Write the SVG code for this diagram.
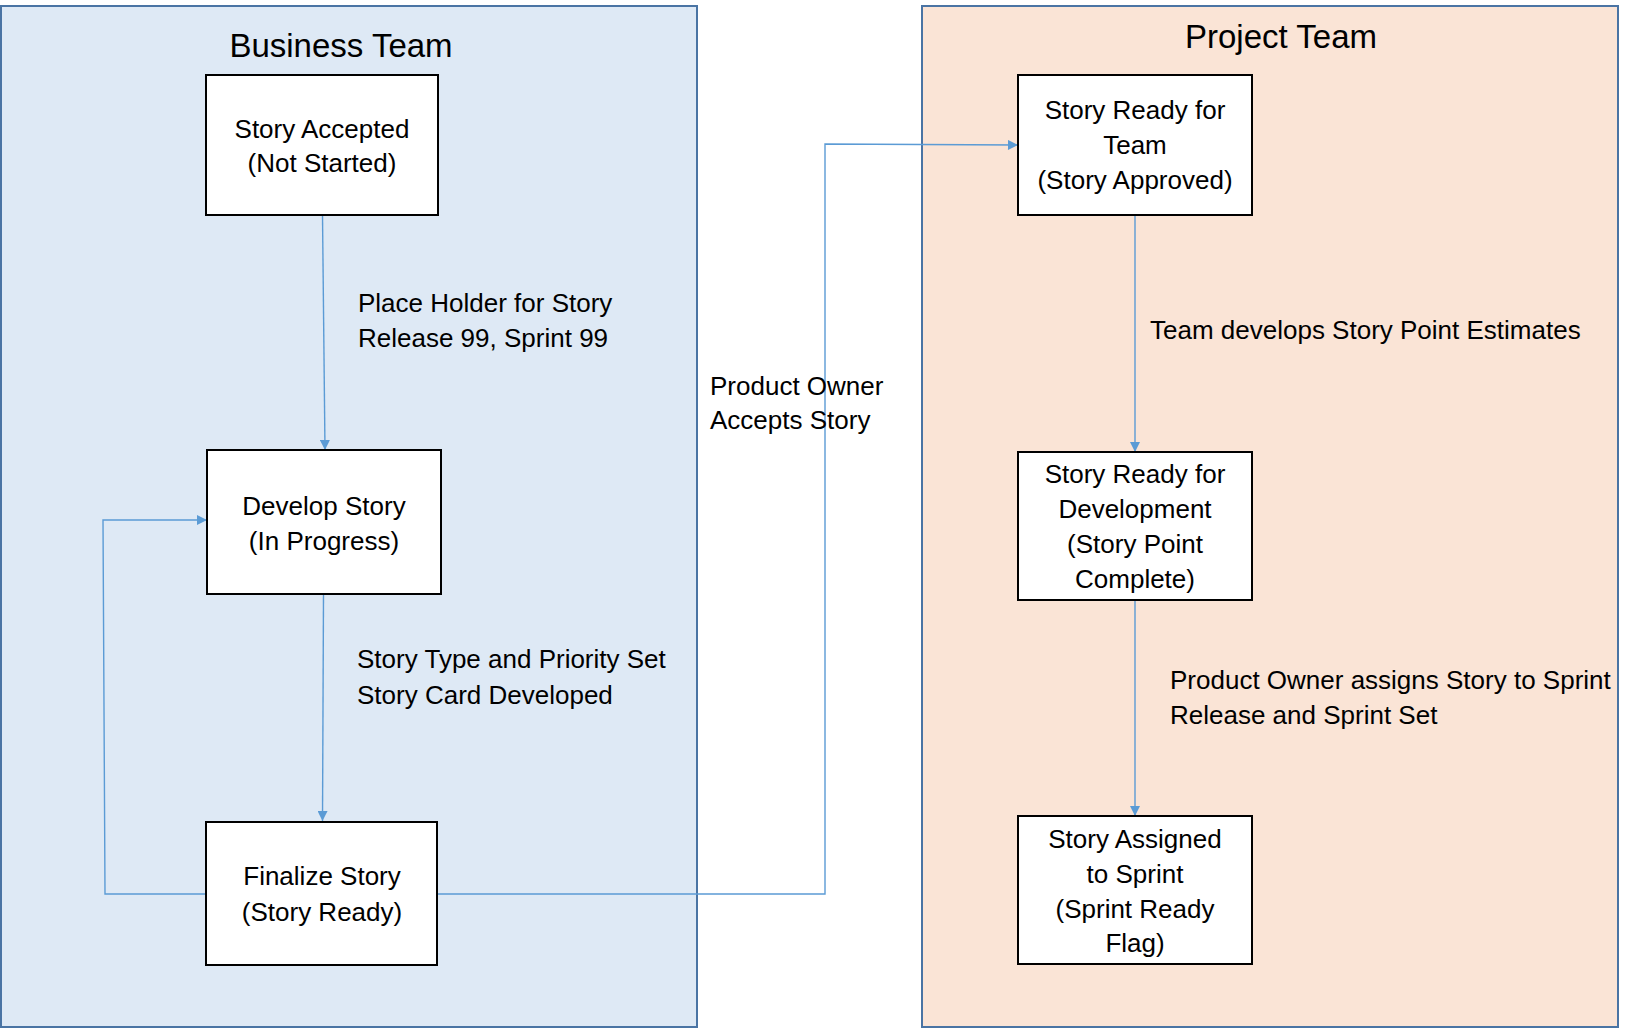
<svg xmlns="http://www.w3.org/2000/svg" width="1637" height="1029" viewBox="0 0 1637 1029">
<style>
.panel{stroke:#4A74A4;stroke-width:2}
.node{fill:#fff;stroke:#000;stroke-width:2}
.t{font-family:"Liberation Sans",Arial,sans-serif;font-size:26px;fill:#000}
.c{text-anchor:middle}
.title{font-family:"Liberation Sans",Arial,sans-serif;font-size:33px;fill:#000;text-anchor:middle}
.conn{fill:none;stroke:#5B9BD5;stroke-width:1.4}
</style>
<defs>
<marker id="arr" viewBox="0 0 10 10" refX="10" refY="5" markerWidth="12" markerHeight="10" markerUnits="userSpaceOnUse" orient="auto">
<path d="M0,0 L10,5 L0,10 z" fill="#5B9BD5"/>
</marker>
</defs>
<rect width="1637" height="1029" fill="#fff"/>
<g id="business-team">
<rect class="panel" x="1" y="6" width="696" height="1021" fill="#DEE9F5"/>
<text class="title" x="341" y="57">Business Team</text>
</g>
<g id="project-team">
<rect class="panel" x="922" y="6" width="696" height="1021" fill="#FAE4D6"/>
<text class="title" x="1281" y="48">Project Team</text>
</g>
<g id="connectors">
<path class="conn" d="M322.5,215 L325,450" marker-end="url(#arr)"/>
<path class="conn" d="M323.5,594 L322.5,821" marker-end="url(#arr)"/>
<path class="conn" d="M206,894 L105,894 L103,520 L207,520" marker-end="url(#arr)"/>
<path class="conn" d="M438,894 L825,894 L825,144 L1018,145" marker-end="url(#arr)"/>
<path class="conn" d="M1135,215 L1135,452" marker-end="url(#arr)"/>
<path class="conn" d="M1135,600 L1135,816" marker-end="url(#arr)"/>
<text class="t" x="358" y="312">Place Holder for Story</text>
<text class="t" x="358" y="347">Release 99, Sprint 99</text>
<text class="t" x="357" y="668">Story Type and Priority Set</text>
<text class="t" x="357" y="704">Story Card Developed</text>
<text class="t" x="710" y="395">Product Owner</text>
<text class="t" x="710" y="429">Accepts Story</text>
<text class="t" x="1150" y="339">Team develops Story Point Estimates</text>
<text class="t" x="1170" y="689">Product Owner assigns Story to Sprint</text>
<text class="t" x="1170" y="724">Release and Sprint Set</text>
</g>
<g id="story-accepted">
<rect class="node" x="206" y="75" width="232" height="140"/>
<text class="t c" x="322" y="138">Story Accepted</text>
<text class="t c" x="322" y="172">(Not Started)</text>
</g>
<g id="develop-story">
<rect class="node" x="207" y="450" width="234" height="144"/>
<text class="t c" x="324" y="515">Develop Story</text>
<text class="t c" x="324" y="550">(In Progress)</text>
</g>
<g id="finalize-story">
<rect class="node" x="206" y="822" width="231" height="143"/>
<text class="t c" x="322" y="885">Finalize Story</text>
<text class="t c" x="322" y="921">(Story Ready)</text>
</g>
<g id="story-ready-team">
<rect class="node" x="1018" y="75" width="234" height="140"/>
<text class="t c" x="1135" y="119">Story Ready for</text>
<text class="t c" x="1135" y="154">Team</text>
<text class="t c" x="1135" y="189">(Story Approved)</text>
</g>
<g id="story-ready-dev">
<rect class="node" x="1018" y="452" width="234" height="148"/>
<text class="t c" x="1135" y="483">Story Ready for</text>
<text class="t c" x="1135" y="518">Development</text>
<text class="t c" x="1135" y="553">(Story Point</text>
<text class="t c" x="1135" y="588">Complete)</text>
</g>
<g id="story-assigned">
<rect class="node" x="1018" y="816" width="234" height="148"/>
<text class="t c" x="1135" y="848">Story Assigned</text>
<text class="t c" x="1135" y="883">to Sprint</text>
<text class="t c" x="1135" y="918">(Sprint Ready</text>
<text class="t c" x="1135" y="952">Flag)</text>
</g>
</svg>
